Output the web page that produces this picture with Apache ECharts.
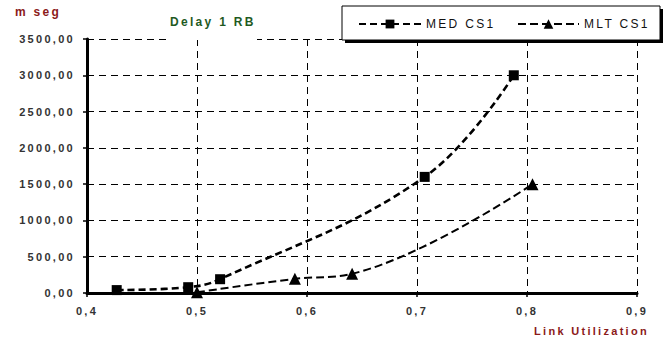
<!DOCTYPE html>
<html><head><meta charset="utf-8">
<script src="https://cdn.jsdelivr.net/npm/echarts@6/dist/echarts.min.js"></script>
<style>
html,body{margin:0;padding:0;background:#fff;}
#c{width:669px;height:338px;}
#c text{letter-spacing:2.3px;}
</style></head><body><div id="c"></div>
<script>
const xTickLabels = ['0,4', '0,5', '0,6', '0,7', '0,8', '0,9'];
const yTickLabels = ['0,00', '500,00', '1000,00', '1500,00', '2000,00', '2500,00', '3000,00', '3500,00'];
const medX = [0.427, 0.492, 0.521, 0.707, 0.788];
const medY = [40, 80, 190, 1600, 3000];
const mltX = [0.500, 0.589, 0.641, 0.805];
const mltY = [10, 195, 265, 1500];
const seriesNames = ['MED CS1', 'MLT CS1'];

const chart = echarts.init(document.getElementById('c'), null, {renderer: 'svg'});
const font = 'Arial, sans-serif';
const labelColor = '#333';
chart.setOption({
  animation: false,
  backgroundColor: '#fff',
  grid: {left: 87, right: 32, top: 39, bottom: 45},
  xAxis: {
    type: 'value', min: 0.4, max: 0.9, interval: 0.1,
    axisLine: {show: true, onZero: false, lineStyle: {color: '#000', width: 3}},
    axisTick: {show: true, length: 4, lineStyle: {color: '#000', width: 1.5}},
    axisLabel: {color: labelColor, fontFamily: font, fontWeight: 'bold', fontSize: 11, margin: 12,
      formatter: v => xTickLabels[Math.round((v - 0.4) / 0.1)]},
    splitLine: {show: true, lineStyle: {color: '#000', width: 1, type: [7, 5]}}
  },
  yAxis: {
    type: 'value', min: 0, max: 3500, interval: 500,
    axisLine: {show: true, lineStyle: {color: '#000', width: 3}},
    axisTick: {show: true, length: 4, lineStyle: {color: '#000', width: 1.5}},
    axisLabel: {color: labelColor, fontFamily: font, fontWeight: 'bold', fontSize: 11, margin: 12,
      formatter: v => yTickLabels[Math.round(v / 500)]},
    splitLine: {show: true, lineStyle: {color: '#000', width: 1, type: [7, 5]}}
  },
  legend: [
    {data: [seriesNames[0]], left: 353, top: 13, itemWidth: 62, itemHeight: 11, itemGap: 0,
     textStyle: {fontFamily: font, fontSize: 12, color: '#111'}},
    {data: [seriesNames[1]], left: 512, top: 13, itemWidth: 61, itemHeight: 12, itemGap: 0,
     textStyle: {fontFamily: font, fontSize: 12, color: '#111'}}
  ],
  graphic: [
    {type: 'rect', z: 3, shape: {x: 345, y: 9, width: 318, height: 34}, style: {fill: '#000'}},
    {type: 'rect', z: 3, shape: {x: 342, y: 6, width: 318, height: 34}, style: {fill: '#fff', stroke: '#000', lineWidth: 1}},
    {type: 'rect', z: 3, shape: {x: 166, y: 8, width: 91, height: 32}, style: {fill: '#fff'}},
    {type: 'text', z: 4, x: 170, y: 22, style: {text: 'Delay 1 RB', fill: '#1f5a1f', font: 'bold 12px ' + font, textVerticalAlign: 'middle'}},
    {type: 'text', z: 4, x: 15, y: 12, style: {text: 'm seg', fill: '#8b1a1a', font: 'bold 12px ' + font, textVerticalAlign: 'middle'}},
    {type: 'text', z: 4, x: 534, y: 331, style: {text: 'Link Utilization', fill: '#8b1a1a', font: 'bold 11px ' + font, textVerticalAlign: 'middle'}}
  ],
  series: [
    {name: seriesNames[0], type: 'line', smooth: 0.4,
     data: medX.map((x, i) => [x, medY[i]]),
     symbol: 'rect', symbolSize: 10,
     lineStyle: {color: '#000', width: 2.6, type: [7, 4]},
     itemStyle: {color: '#000'}},
    {name: seriesNames[1], type: 'line', smooth: 0.4,
     data: mltX.map((x, i) => [x, mltY[i]]),
     symbol: 'triangle', symbolSize: 12,
     lineStyle: {color: '#000', width: 2, type: [8, 4]},
     itemStyle: {color: '#000'}}
  ]
});
</script></body></html>
